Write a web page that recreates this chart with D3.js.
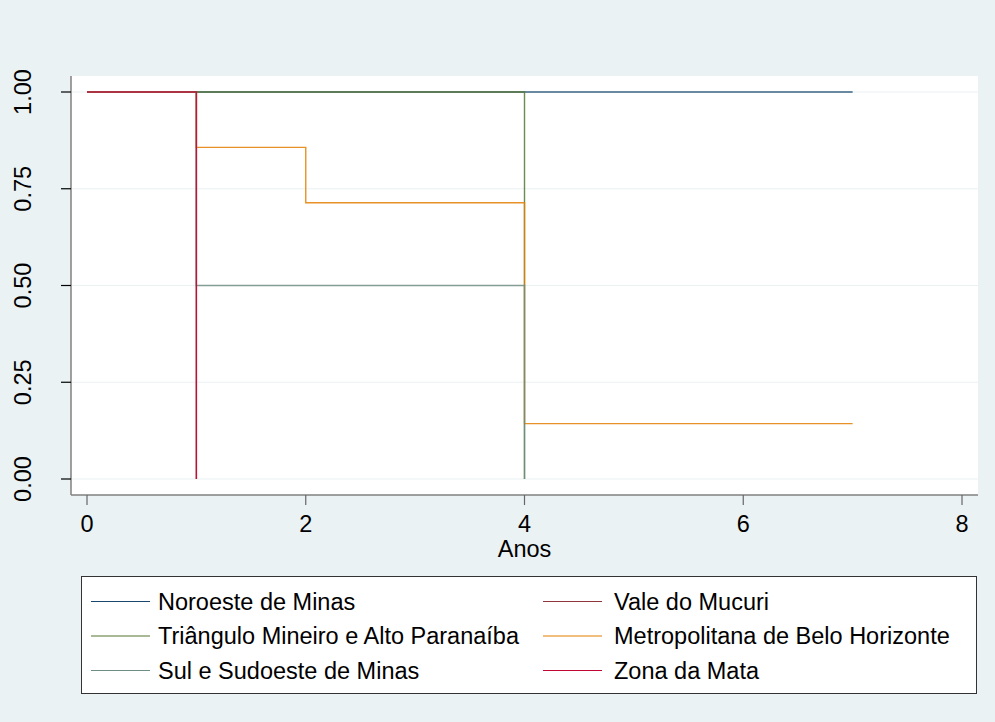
<!DOCTYPE html>
<html>
<head>
<meta charset="utf-8">
<script src="https://cdn.jsdelivr.net/npm/d3@7"></script>
<style>
  body { margin: 0; background: #eaf2f3; }
  text { font-family: "Liberation Sans", Arial, sans-serif; fill: #000; }
</style>
</head>
<body>
<div id="chart"></div>
<script>
// Series (Kaplan-Meier style step data)
const seriesNames = [
    "Noroeste de Minas",
    "Vale do Mucuri",
    "Triângulo Mineiro e Alto Paranaíba",
    "Metropolitana de Belo Horizonte",
    "Sul e Sudoeste de Minas",
    "Zona da Mata"
];
const seriesColors = ["#1a476f", "#90353b", "#55752f", "#e37e00", "#6e8e84", "#c10534"];

const noroesteTimes = [0, 7];
const noroesteSurv = [1, 1];
const valeTimes = [0, 1];
const valeSurv = [1, 0];
const trianguloTimes = [0, 4];
const trianguloSurv = [1, 0];
const metroTimes = [0, 1, 2, 4, 7];
const metroSurv = [1, 0.857, 0.714, 0.143, 0.143];
const sulTimes = [0, 1, 4];
const sulSurv = [1, 0.5, 0];
const zonaTimes = [0, 1];
const zonaSurv = [1, 0];

const xTicks = [0, 2, 4, 6, 8];
const yTicks = [0, 0.25, 0.5, 0.75, 1];
const xTitle = "Anos";

const allSeries = [
    [noroesteTimes, noroesteSurv],
    [valeTimes, valeSurv],
    [trianguloTimes, trianguloSurv],
    [metroTimes, metroSurv],
    [sulTimes, sulSurv],
    [zonaTimes, zonaSurv]
].map(([t, s], i) => ({
    name: seriesNames[i],
    color: seriesColors[i],
    values: t.map((d, j) => ({ t: d, s: s[j] }))
}));

const W = 995, H = 722;
const plot = { left: 71, right: 978, top: 76, bottom: 495 };
const fontSize = "23.5px";

const svg = d3.select("#chart")
    .append("svg")
    .attr("width", W)
    .attr("height", H);

svg.append("rect")
    .attr("width", W).attr("height", H)
    .attr("fill", "#eaf2f3");

// Plot region
svg.append("rect")
    .attr("x", plot.left).attr("y", plot.top)
    .attr("width", plot.right - plot.left)
    .attr("height", plot.bottom - plot.top)
    .attr("fill", "#fff");

const x = d3.scaleLinear().domain([0, 8]).range([87, 962]);
const y = d3.scaleLinear().domain([0, 1]).range([479, 92]);

// Gridlines
svg.append("g")
    .selectAll("line")
    .data(yTicks)
    .join("line")
    .attr("x1", plot.left).attr("x2", plot.right)
    .attr("y1", d => y(d)).attr("y2", d => y(d))
    .attr("stroke", "#eaf2f3")
    .attr("stroke-width", 1.2);

// Lines
const line = d3.line()
    .x(d => x(d.t))
    .y(d => y(d.s))
    .curve(d3.curveStepAfter);

svg.append("g")
    .selectAll("path")
    .data(allSeries)
    .join("path")
    .attr("fill", "none")
    .attr("stroke", d => d.color)
    .attr("stroke-width", 1.4)
    .attr("stroke-opacity", 0.85)
    .attr("d", d => line(d.values));

// Y axis
svg.append("line")
    .attr("x1", plot.left).attr("x2", plot.left)
    .attr("y1", plot.top).attr("y2", plot.bottom)
    .attr("stroke", "#808080").attr("stroke-width", 1.5);

const yAxis = svg.append("g");
yAxis.selectAll("line")
    .data(yTicks)
    .join("line")
    .attr("x1", plot.left - 10).attr("x2", plot.left)
    .attr("y1", d => y(d)).attr("y2", d => y(d))
    .attr("stroke", "#000").attr("stroke-width", 1.2);
yAxis.selectAll("text")
    .data(yTicks)
    .join("text")
    .attr("transform", d => `translate(31,${y(d)}) rotate(-90)`)
    .attr("text-anchor", "middle")
    .style("font-size", fontSize)
    .text(d => d3.format(".2f")(d));

// X axis
svg.append("line")
    .attr("x1", plot.left).attr("x2", plot.right)
    .attr("y1", plot.bottom).attr("y2", plot.bottom)
    .attr("stroke", "#808080").attr("stroke-width", 1.5);

const xAxis = svg.append("g");
xAxis.selectAll("line")
    .data(xTicks)
    .join("line")
    .attr("x1", d => x(d)).attr("x2", d => x(d))
    .attr("y1", plot.bottom).attr("y2", plot.bottom + 10)
    .attr("stroke", "#666").attr("stroke-width", 1.2);
xAxis.selectAll("text")
    .data(xTicks)
    .join("text")
    .attr("x", d => x(d))
    .attr("y", 532)
    .attr("text-anchor", "middle")
    .style("font-size", fontSize)
    .text(d => d);

svg.append("text")
    .attr("x", x(4))
    .attr("y", 557)
    .attr("text-anchor", "middle")
    .style("font-size", fontSize)
    .text(xTitle);

// Legend
const legend = svg.append("g");
legend.append("rect")
    .attr("x", 81.5).attr("y", 576.5)
    .attr("width", 895).attr("height", 117)
    .attr("fill", "#fff")
    .attr("stroke", "#333").attr("stroke-width", 1);

allSeries.forEach((s, i) => {
    const col = i % 2, row = Math.floor(i / 2);
    const lx = col === 0 ? 91 : 543;
    const ly = 601.5 + row * 34.5;
    legend.append("line")
        .attr("x1", lx).attr("x2", lx + 59)
        .attr("y1", ly).attr("y2", ly)
        .attr("stroke", s.color).attr("stroke-width", 1.2);
    legend.append("text")
        .attr("x", col === 0 ? lx + 67 : lx + 71)
        .attr("y", ly + 8)
        .style("font-size", fontSize)
        .text(s.name);
});
</script>
</body>
</html>
